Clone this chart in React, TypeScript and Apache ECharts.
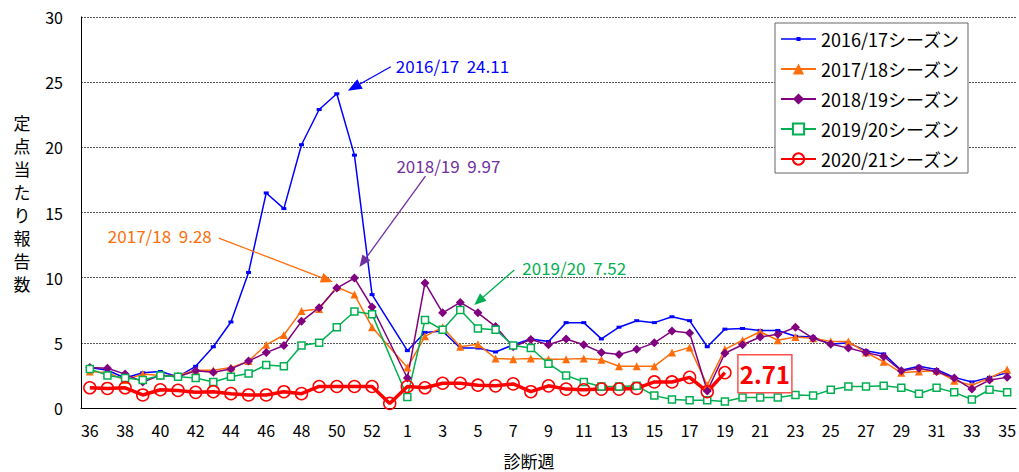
import React, { useEffect, useRef } from 'react';
import * as echarts from 'echarts';

const weeks = ['36','37','38','39','40','41','42','43','44','45','46','47','48','49','50','51','52','53',
  '1','2','3','4','5','6','7','8','9','10','11','12','13','14','15','16','17','18','19','20','21','22','23','24','25','26','27','28','29','30','31','32','33','34','35'];

const seasonNames = ['2016/17シーズン', '2017/18シーズン', '2018/19シーズン', '2019/20シーズン', '2020/21シーズン'];

const s1617 = [3.1, 2.9, 2.3, 2.7, 2.8, 2.4, 3.2, 4.7, 6.6, 10.4, 16.5, 15.3, 20.2, 22.9, 24.11, 19.4, 8.7, null,
  4.4, 5.8, 5.9, 4.6, 4.6, 4.3, 4.85, 5.3, 5.1, 6.55, 6.55, 5.3, 6.2, 6.7, 6.55, 7.0, 6.7, 4.7, 6.05, 6.1, 5.95, 5.95, 5.5, 5.45, 4.9, 5.0, 4.4, 4.15, 2.9, 3.2, 2.95, 2.35, 2.0, 2.35, 2.7];
const s1718 = [2.8, 2.7, 2.15, 2.6, 2.5, 2.5, 2.9, 2.9, 3.1, 3.6, 4.85, 5.6, 7.45, 7.6, 9.28, 8.7, 6.2, null,
  3.1, 5.5, 6.2, 4.7, 4.9, 3.8, 3.75, 3.8, 3.75, 3.75, 3.8, 3.7, 3.2, 3.2, 3.2, 4.25, 4.65, 1.75, 4.5, 5.2, 5.85, 5.2, 5.45, 5.35, 5.1, 5.1, 4.25, 3.55, 2.7, 2.8, 2.85, 2.1, 1.75, 2.3, 2.95];
const s1819 = [3.1, 3.05, 2.6, 2.0, 2.5, 2.4, 2.85, 2.75, 3.0, 3.6, 4.25, 4.8, 6.65, 7.7, 9.2, 9.97, 7.75, null,
  2.3, 9.6, 7.3, 8.1, 7.3, 6.25, 4.7, 5.25, 4.85, 5.3, 4.85, 4.25, 4.1, 4.5, 5.0, 5.9, 5.75, 1.3, 4.2, 4.85, 5.45, 5.65, 6.2, 5.35, 4.9, 4.6, 4.25, 3.95, 2.85, 3.05, 2.8, 2.3, 1.45, 2.15, 2.35];
const s1920 = [3.0, 2.5, 2.3, 2.15, 2.5, 2.4, 2.3, 2.0, 2.4, 2.65, 3.3, 3.2, 4.8, 5.0, 6.2, 7.4, 7.2, null,
  0.85, 6.75, 6.0, 7.52, 6.1, 6.0, 4.8, 4.6, 3.4, 2.5, 2.0, 1.65, 1.65, 1.7, 0.95, 0.65, 0.6, 0.6, 0.5, 0.8, 0.8, 0.8, 1.0, 0.95, 1.4, 1.65, 1.65, 1.7, 1.55, 1.1, 1.55, 1.2, 0.65, 1.4, 1.2];
const s2021 = [1.55, 1.5, 1.55, 1.0, 1.4, 1.35, 1.2, 1.25, 1.1, 1.0, 1.0, 1.25, 1.1, 1.65, 1.65, 1.65, 1.65, 0.35,
  1.65, 1.55, 1.9, 1.9, 1.75, 1.7, 1.85, 1.25, 1.7, 1.45, 1.4, 1.45, 1.45, 1.5, 2.0, 2.0, 2.35, 1.25, 2.71,
  null, null, null, null, null, null, null, null, null, null, null, null, null, null, null, null];

const yTicks = { min: 0, max: 30, interval: 5 };

const FONT = '"Noto Sans CJK JP", "Noto Sans", sans-serif';

const colors = ['#0000ff', '#ff6d0a', '#800080', '#00b050', '#ff0000'];

const blueLegendIcon = 'path://M0 0 M35 14 M0 6.3 L35 6.3 L35 7.7 L0 7.7 Z M15.5 5 L19.5 5 L19.5 9 L15.5 9 Z';

export default function App() {
  const ref = useRef<HTMLDivElement>(null);
  useEffect(() => {
    const chart = echarts.init(ref.current!, null, { renderer: 'svg' });
    const thin = (c: string) => ({ color: c, width: 1.5 });
    const option: any = {
      animation: false,
      backgroundColor: '#fff',
      textStyle: { fontFamily: FONT },
      grid: { left: 81, right: 0, top: 17, bottom: 64, containLabel: false },
      legend: {
        orient: 'vertical',
        left: 775,
        top: 23,
        padding: [7, 8, 5, 5],
        itemGap: 12,
        itemWidth: 35,
        itemHeight: 14,
        backgroundColor: '#fff',
        borderColor: '#666',
        borderWidth: 1,
        textStyle: { fontSize: 18, lineHeight: 18, color: '#000', fontFamily: FONT },
        data: [
          { name: seasonNames[0], icon: blueLegendIcon },
          seasonNames[1], seasonNames[2], seasonNames[3], seasonNames[4],
        ],
      },
      xAxis: {
        type: 'category',
        data: weeks,
        boundaryGap: true,
        axisLine: { lineStyle: { color: '#000', width: 1 } },
        axisTick: { inside: true, length: 5, interval: 0, lineStyle: { color: '#000' } },
        axisLabel: { interval: 1, fontSize: 16, color: '#000', margin: 14, fontFamily: FONT },
        splitLine: { show: false },
      },
      yAxis: {
        type: 'value',
        min: yTicks.min,
        max: yTicks.max,
        interval: yTicks.interval,
        axisLine: { show: true, lineStyle: { color: '#000', width: 1 } },
        axisTick: { show: false },
        axisLabel: { fontSize: 16, color: '#000', margin: 18, fontFamily: FONT },
        splitLine: { lineStyle: { color: '#555', width: 1, type: [2, 1] } },
      },
      series: [
        {
          name: seasonNames[0], type: 'line', data: s1617, connectNulls: true, showAllSymbol: true,
          symbol: 'rect', symbolSize: [5, 3],
          lineStyle: thin(colors[0]), itemStyle: { color: colors[0] },
        },
        {
          name: seasonNames[1], type: 'line', data: s1718, connectNulls: true, showAllSymbol: true,
          symbol: 'triangle', symbolSize: 8,
          lineStyle: thin(colors[1]), itemStyle: { color: colors[1] },
        },
        {
          name: seasonNames[2], type: 'line', data: s1819, connectNulls: true, showAllSymbol: true,
          symbol: 'diamond', symbolSize: 9,
          lineStyle: thin(colors[2]), itemStyle: { color: colors[2] },
        },
        {
          name: seasonNames[3], type: 'line', data: s1920, connectNulls: true, showAllSymbol: true,
          symbol: 'rect', symbolSize: 7,
          lineStyle: thin(colors[3]), itemStyle: { color: '#fff', borderColor: colors[3], borderWidth: 1.5 },
        },
        {
          name: seasonNames[4], type: 'line', data: s2021, connectNulls: false, showAllSymbol: true,
          symbol: 'circle', symbolSize: 12,
          lineStyle: { color: colors[4], width: 3.5 },
          itemStyle: { color: 'rgba(255,255,255,0)', borderColor: colors[4], borderWidth: 1.5 },
        },
      ],
    };
    chart.setOption(option);

    const px = (s: number, i: number, v: number) =>
      chart.convertToPixel({ seriesIndex: s }, [i, v]) as number[];

    const arrow = (S: number[], T: number[], color: string, hl: number, hw: number, lw: number) => {
      const dx = T[0] - S[0], dy = T[1] - S[1];
      const L = Math.hypot(dx, dy);
      const ux = dx / L, uy = dy / L;
      const bx = T[0] - ux * hl, by = T[1] - uy * hl;
      const nx = -uy, ny = ux;
      return [
        { type: 'line', shape: { x1: S[0], y1: S[1], x2: bx, y2: by }, style: { stroke: color, lineWidth: lw }, z: 100 },
        {
          type: 'polygon',
          shape: { points: [[T[0], T[1]], [bx + nx * hw / 2, by + ny * hw / 2], [bx - nx * hw / 2, by - ny * hw / 2]] },
          style: { fill: color }, z: 100,
        },
      ];
    };

    const notes = [
      { s: 0, i: 14, v: 24.11, label: '2016/17  24.11', color: '#0000ff', start: [54, -27], tip: [11, -3], text: [59, -28], align: 'left', hl: 14, hw: 11 },
      { s: 1, i: 14, v: 9.28, label: '2017/18  9.28', color: '#ff6d0a', start: [-118, -49], tip: [-4, -5], text: [-125, -52], align: 'right', hl: 12, hw: 10 },
      { s: 2, i: 15, v: 9.97, label: '2018/19  9.97', color: '#7030a0', start: [71, -102], tip: [5, -11], text: [42, -113], align: 'left', hl: 12, hw: 10 },
      { s: 3, i: 21, v: 7.52, label: '2019/20  7.52', color: '#00b050', start: [54, -40], tip: [14, -5], text: [62, -42], align: 'left', hl: 12, hw: 10 },
    ];

    const elements: any[] = [];
    notes.forEach((n) => {
      const P = px(n.s, n.i, n.v);
      const S = [P[0] + n.start[0], P[1] + n.start[1]];
      const T = [P[0] + n.tip[0], P[1] + n.tip[1]];
      elements.push(...arrow(S, T, n.color, n.hl, n.hw, 1.3));
      elements.push({
        type: 'text', x: P[0] + n.text[0], y: P[1] + n.text[1], z: 100,
        style: { text: n.label, fill: n.color, font: `17px ${FONT}`, textAlign: n.align, textVerticalAlign: 'middle' },
      });
    });

    const lastIdx = 36;
    const RP = px(4, lastIdx, s2021[lastIdx] as number);
    elements.push({
      type: 'rect', z: 100,
      shape: { x: RP[0] + 13, y: RP[1] - 18, width: 54, height: 38 },
      style: { fill: '#fff', stroke: '#ff5050', lineWidth: 1.5 },
    });
    elements.push({
      type: 'text', z: 101, x: RP[0] + 40, y: RP[1] + 1,
      style: { text: String(s2021[lastIdx]), fill: '#ff0000', font: `bold 24px ${FONT}`, textAlign: 'center', textVerticalAlign: 'middle' },
    });

    elements.push({
      type: 'text', x: 22, y: 111, z: 100,
      style: { text: '定\n点\n当\nた\nり\n報\n告\n数', fill: '#000', font: `17px ${FONT}`, lineHeight: 23, textAlign: 'center', textVerticalAlign: 'top' },
    });
    elements.push({
      type: 'text', x: 529, y: 460, z: 100,
      style: { text: '診断週', fill: '#000', font: `17px ${FONT}`, textAlign: 'center', textVerticalAlign: 'middle' },
    });

    chart.setOption({ graphic: elements });
    return () => chart.dispose();
  }, []);
  return <div ref={ref} style={{ position: 'fixed', left: 0, top: 0, width: 1019, height: 472, background: '#fff' }} />;
}
